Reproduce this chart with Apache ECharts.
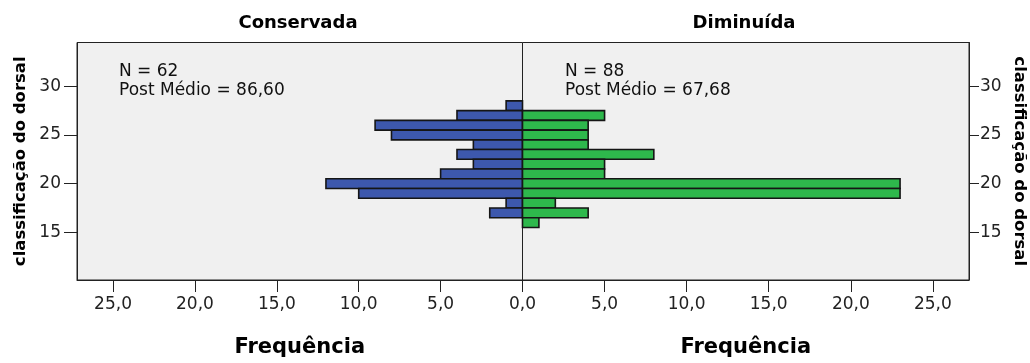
<!DOCTYPE html>
<html><head><meta charset="utf-8">
<script src="https://cdn.jsdelivr.net/npm/echarts@6/dist/echarts.min.js"></script>
<style>html,body{margin:0;padding:0;background:#fff}#c{width:1030px;height:363px}</style>
</head><body><div id="c"></div>
<script>
// ---- data ----
const bins = [28, 27, 26, 25, 24, 23, 22, 21, 20, 19, 18, 17, 16];
const conservada = [1, 4, 9, 8, 3, 4, 3, 5, 12, 10, 1, 2, 0];
const diminuida  = [0, 5, 4, 4, 4, 8, 5, 5, 23, 23, 2, 4, 1];
const groupNames = ['Conservada', 'Diminuída'];
const groupN = [62, 88];
const postMedio = ['86,60', '67,68'];
const xTicks = [0, 5, 10, 15, 20, 25];
const yTicks = [15, 20, 25, 30];
const xAxisName = 'Frequência';
const yAxisName = 'classificação do dorsal';

// ---- styling ----
const FONT = 'DejaVu Sans';
const INK = '#222';
const fmt1 = v => Number(v).toFixed(1).replace('.', ',');
const toData = counts => bins.map((b, i) => [counts[i], b]);

function makeRender(color) {
  return function (params, api) {
    const c = api.value(0), b = api.value(1);
    if (!c) return null;
    const p1 = api.coord([0, b + 0.5]);
    const p2 = api.coord([c, b - 0.5]);
    return {
      type: 'rect',
      shape: { x: Math.min(p1[0], p2[0]), y: p1[1], width: Math.abs(p2[0] - p1[0]), height: p2[1] - p1[1] },
      style: { fill: color, stroke: '#151515', lineWidth: 1.6 }
    };
  };
}

const gridCommon = { top: 42.5, height: 240, show: true, backgroundColor: '#f0f0f0', borderColor: INK, borderWidth: 1 };

function xAxis(gi, inverse, labels) {
  return {
    gridIndex: gi, type: 'value', min: 0, max: 27.2, inverse: inverse, position: 'bottom',
    axisLine: { show: true, onZero: false, lineStyle: { color: INK, width: 1 } },
    axisTick: { show: true, customValues: xTicks, length: 12, lineStyle: { color: INK, width: 1 } },
    axisLabel: { customValues: labels, formatter: fmt1, margin: 16, fontFamily: FONT, fontSize: 17, color: INK },
    splitLine: { show: false },
    name: xAxisName, nameLocation: 'middle', nameGap: 57,
    nameTextStyle: { fontFamily: FONT, fontWeight: 'bold', fontSize: 21, color: '#000' }
  };
}
function yAxis(gi, pos) {
  return {
    gridIndex: gi, type: 'value', min: 10.1, max: 34.5, position: pos,
    axisLine: { show: true, onZero: false, lineStyle: { color: INK, width: 1 } },
    axisTick: { show: true, customValues: yTicks, length: pos === 'left' ? 13 : 10, lineStyle: { color: INK, width: 1 } },
    axisLabel: { customValues: yTicks, margin: pos === 'left' ? 16 : 11, fontFamily: FONT, fontSize: 17, color: INK },
    splitLine: { show: false },
    name: yAxisName, nameLocation: 'middle', nameGap: pos === 'left' ? 48 : 42,
    nameRotate: pos === 'left' ? 90 : -90,
    nameTextStyle: { fontFamily: FONT, fontWeight: 'bold', fontSize: 16.5, color: '#000' }
  };
}

const chart = echarts.init(document.getElementById('c'), null, { renderer: 'canvas' });
chart.setOption({
  animation: false,
  backgroundColor: '#fff',
  grid: [
    Object.assign({ left: 77, width: 445.5 }, gridCommon),
    Object.assign({ left: 522.5, width: 446.5 }, gridCommon)
  ],
  xAxis: [xAxis(0, true, xTicks.filter(v => v !== 0)), xAxis(1, false, xTicks)],
  yAxis: [yAxis(0, 'left'), yAxis(1, 'right')],
  series: [
    { name: groupNames[0], type: 'custom', xAxisIndex: 0, yAxisIndex: 0, data: toData(conservada),
      encode: { x: 0, y: 1 }, renderItem: makeRender('#3d58ad') },
    { name: groupNames[1], type: 'custom', xAxisIndex: 1, yAxisIndex: 1, data: toData(diminuida),
      encode: { x: 0, y: 1 }, renderItem: makeRender('#2eb84c') }
  ],
  graphic: [
    { type: 'text', x: 298, y: 23, style: { text: groupNames[0], fontFamily: FONT, fontWeight: 'bold', fontSize: 18, fill: '#000', align: 'center', verticalAlign: 'middle' } },
    { type: 'text', x: 744, y: 23, style: { text: groupNames[1], fontFamily: FONT, fontWeight: 'bold', fontSize: 18, fill: '#000', align: 'center', verticalAlign: 'middle' } },
    { type: 'text', x: 119, y: 62, z: 10, style: { text: 'N = ' + groupN[0] + '\nPost Médio = ' + postMedio[0], fontFamily: FONT, fontSize: 17, lineHeight: 19, fill: '#111' } },
    { type: 'text', x: 565, y: 62, z: 10, style: { text: 'N = ' + groupN[1] + '\nPost Médio = ' + postMedio[1], fontFamily: FONT, fontSize: 17, lineHeight: 19, fill: '#111' } }
  ]
});
</script></body></html>
